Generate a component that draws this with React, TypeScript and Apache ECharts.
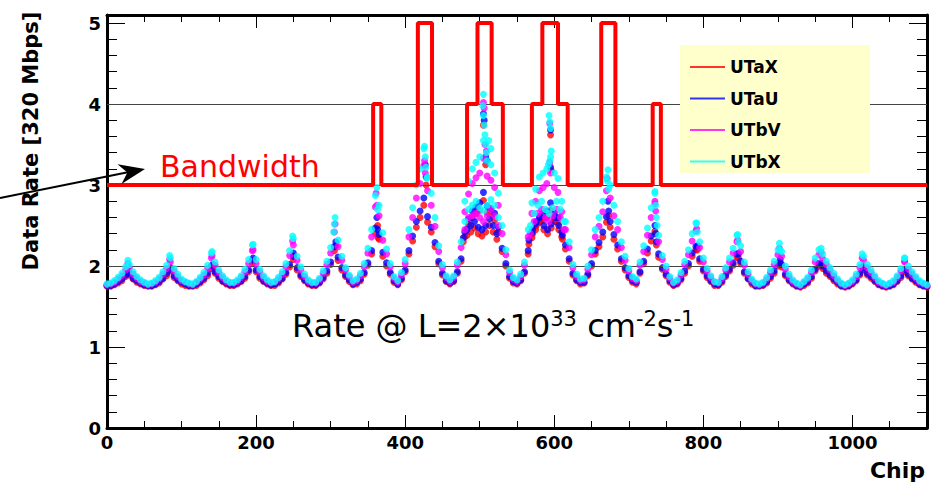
import React, { useEffect, useRef } from "react";
import * as echarts from "echarts";

// ---- data ----
const SAMPLE_STEP = 5; // chip spacing of the sampled base arrays
const X_MAX = 1100;
const Y_MAX = 5.1;
const X_LABEL_STEP = 200;

const bandEdges = [0, 357, 368, 417, 436, 483, 497, 516, 531, 570, 584, 605, 618, 663, 682, 732, 743, 1100];
const bandLevels = [3, 4, 3, 5, 3, 4, 5, 4, 3, 4, 5, 4, 3, 5, 3, 4, 3];
const refLevels = [2, 3, 4];

// UTaX (red)
const utaXBase = [
  1.75,1.75,1.77,1.79,1.82,1.87,1.89,1.84,1.80,1.78,
  1.76,1.75,1.75,1.77,1.79,1.84,1.88,1.94,1.86,1.82,
  1.78,1.76,1.75,1.75,1.76,1.79,1.83,1.88,1.97,1.91,
  1.85,1.81,1.78,1.76,1.76,1.78,1.81,1.85,1.93,2.03,
  1.93,1.85,1.81,1.78,1.76,1.76,1.79,1.84,1.90,1.99,
  2.08,1.95,1.87,1.82,1.78,1.76,1.76,1.79,1.84,1.91,
  2.02,2.19,2.07,1.95,1.87,1.81,1.77,1.78,1.82,1.90,
  2.01,2.15,2.40,2.33,2.12,2.00,1.90,1.80,1.77,1.83,
  1.93,2.15,2.31,2.48,2.60,2.75,2.54,2.42,2.24,2.03,
  1.89,1.81,1.78,1.81,1.91,2.06,2.36,2.51,2.60,2.65,
  2.69,2.81,2.66,2.63,2.57,2.42,2.18,2.00,1.85,1.79,
  1.78,1.82,1.91,2.15,2.35,2.45,2.54,2.57,2.60,2.69,
  2.57,2.53,2.36,2.21,2.06,1.89,1.82,1.78,1.79,1.88,
  2.00,2.15,2.24,2.36,2.54,2.48,2.33,2.21,2.06,1.95,
  1.86,1.80,1.78,1.91,2.03,2.16,2.31,2.43,2.11,1.96,
  1.88,1.80,1.76,1.78,1.83,1.91,2.00,2.12,2.20,2.06,
  1.94,1.86,1.81,1.76,1.76,1.80,1.87,1.94,2.01,2.11,
  2.03,1.91,1.84,1.78,1.75,1.75,1.76,1.79,1.85,1.91,
  2.00,1.99,1.88,1.82,1.78,1.75,1.74,1.76,1.79,1.85,
  1.94,2.00,1.97,1.91,1.87,1.82,1.78,1.75,1.74,1.75,
  1.78,1.82,1.89,1.95,1.89,1.85,1.81,1.77,1.75,1.74,
  1.75,1.77,1.81,1.86,1.94,1.88,1.84,1.80,1.77,1.75,1.74,
];
const utaXExtra = [
  [29,1.92],[85,1.95],[142,1.99],[196,2.06],[250,2.12],[307,2.25],[363,2.5],[364,2.35],
  [428,3.0],[505,3.74],[508,3.25],
  [478,2.3],[483,2.38],[488,2.42],[493,2.47],[498,2.4],[503,2.37],[508,2.42],[513,2.5],[518,2.42],[523,2.33],
  [595,3.62],[596,3.18],
  [566,2.27],[571,2.4],[576,2.5],[581,2.55],[586,2.45],[591,2.4],[596,2.47],[601,2.55],[606,2.45],[611,2.33],
  [673,2.62],[737,2.26],[792,2.2],[847,2.1],[903,2.04],[959,2.0],[1014,1.96],[1071,1.93],
];

// UTaU (blue)
const utaUBase = [
  1.76,1.76,1.78,1.81,1.84,1.89,1.91,1.85,1.82,1.79,
  1.77,1.76,1.76,1.78,1.81,1.85,1.91,1.96,1.88,1.83,
  1.80,1.78,1.76,1.76,1.78,1.81,1.85,1.91,2.00,1.93,
  1.87,1.82,1.79,1.77,1.77,1.79,1.82,1.87,1.95,2.07,
  1.95,1.87,1.82,1.79,1.77,1.78,1.81,1.85,1.92,2.02,
  2.12,1.98,1.89,1.83,1.79,1.77,1.77,1.80,1.86,1.94,
  2.05,2.24,2.11,1.98,1.89,1.83,1.78,1.80,1.84,1.92,
  2.04,2.19,2.47,2.39,2.17,2.04,1.92,1.82,1.78,1.85,
  1.95,2.19,2.37,2.55,2.68,2.84,2.61,2.48,2.29,2.06,
  1.91,1.82,1.79,1.82,1.93,2.09,2.42,2.58,2.68,2.73,
  2.78,2.91,2.74,2.71,2.65,2.48,2.22,2.03,1.87,1.81,
  1.79,1.83,1.93,2.19,2.41,2.52,2.61,2.65,2.68,2.78,
  2.65,2.60,2.42,2.26,2.09,1.91,1.83,1.80,1.80,1.90,
  2.03,2.19,2.29,2.42,2.61,2.55,2.39,2.26,2.09,1.98,
  1.88,1.82,1.80,1.93,2.06,2.21,2.37,2.50,2.15,1.98,
  1.90,1.82,1.77,1.79,1.85,1.94,2.03,2.16,2.24,2.09,
  1.96,1.88,1.82,1.78,1.77,1.82,1.89,1.96,2.04,2.15,
  2.06,1.93,1.85,1.80,1.76,1.76,1.77,1.81,1.87,1.94,
  2.03,2.02,1.90,1.83,1.79,1.76,1.75,1.78,1.81,1.87,
  1.96,2.03,2.00,1.94,1.89,1.84,1.80,1.76,1.75,1.76,
  1.79,1.83,1.91,1.98,1.91,1.87,1.82,1.78,1.76,1.75,
  1.76,1.78,1.82,1.88,1.96,1.90,1.85,1.82,1.78,1.76,1.75,
];
const utaUExtra = [
  [29,1.94],[85,1.98],[142,2.02],[196,2.1],[250,2.16],[307,2.3],[362,2.6],[363,2.45],
  [427,3.25],[428,3.1],[505,3.88],[506,3.8],[508,3.35],[510,3.3],
  [478,2.35],[483,2.45],[488,2.5],[493,2.55],[498,2.48],[503,2.45],[508,2.5],[513,2.58],[518,2.5],[523,2.4],
  [595,3.68],[595,3.22],
  [566,2.32],[571,2.45],[576,2.55],[581,2.6],[586,2.5],[591,2.45],[596,2.52],[601,2.6],[606,2.5],[611,2.38],
  [672,2.8],[673,2.68],[736,2.4],[737,2.3],[792,2.25],[847,2.15],[903,2.08],[959,2.03],[1014,1.99],[1071,1.96],
];

// UTbV (magenta)
const utbVBase = [
  1.77,1.78,1.80,1.84,1.88,1.95,1.98,1.90,1.85,1.81,
  1.79,1.77,1.78,1.80,1.84,1.90,1.97,2.05,1.94,1.87,
  1.82,1.80,1.78,1.77,1.80,1.84,1.89,1.97,2.10,2.01,
  1.92,1.86,1.81,1.79,1.79,1.81,1.86,1.93,2.03,2.19,
  2.03,1.93,1.86,1.81,1.79,1.80,1.84,1.90,1.99,2.13,
  2.26,2.07,1.95,1.87,1.81,1.79,1.79,1.83,1.91,2.02,
  2.16,2.42,2.24,2.07,1.95,1.87,1.80,1.82,1.88,1.99,
  2.16,2.36,2.73,2.62,2.32,2.15,1.99,1.85,1.80,1.89,
  2.03,2.36,2.60,2.84,3.02,3.24,2.93,2.75,2.49,2.18,
  1.98,1.86,1.81,1.86,2.01,2.23,2.67,2.89,3.02,3.09,
  3.15,3.33,3.11,3.06,2.97,2.75,2.40,2.14,1.92,1.84,
  1.81,1.87,2.01,2.36,2.65,2.80,2.93,2.97,3.02,3.15,
  2.97,2.91,2.67,2.45,2.23,1.98,1.87,1.82,1.83,1.96,
  2.14,2.36,2.49,2.67,2.93,2.84,2.62,2.45,2.23,2.07,
  1.94,1.85,1.82,2.01,2.18,2.38,2.60,2.77,2.30,2.08,
  1.96,1.85,1.79,1.81,1.89,2.02,2.14,2.31,2.43,2.23,
  2.05,1.94,1.86,1.80,1.79,1.85,1.95,2.05,2.16,2.30,
  2.18,2.01,1.90,1.82,1.78,1.77,1.79,1.84,1.92,2.02,
  2.14,2.12,1.96,1.87,1.81,1.78,1.76,1.80,1.84,1.92,
  2.05,2.14,2.09,2.02,1.95,1.88,1.82,1.78,1.76,1.78,
  1.81,1.87,1.98,2.07,1.98,1.92,1.86,1.80,1.78,1.76,
  1.78,1.80,1.86,1.94,2.05,1.96,1.90,1.85,1.80,1.78,1.76,
];
const utbVExtra = [
  [28,2.03],[84,2.08],[141,2.13],[196,2.2],[249,2.31],[306,2.52],[361,2.9],[362,2.75],
  [426,3.3],[427,3.15],[505,4.02],[506,3.95],[507,3.5],[509,3.42],
  [480,2.45],[485,2.6],[490,2.62],[495,2.65],[500,2.6],[505,2.55],[510,2.62],[515,2.7],[520,2.62],[525,2.5],
  [594,3.76],[594,3.28],
  [568,2.4],[573,2.55],[578,2.65],[583,2.7],[588,2.6],[593,2.55],[598,2.62],[603,2.7],[608,2.6],[613,2.45],
  [671,3.08],[735,2.8],[736,2.68],[791,2.46],[846,2.32],[902,2.22],[958,2.17],[1013,2.1],[1070,2.06],
];

// UTbX (cyan)
const utbXBase = [
  1.78,1.79,1.82,1.86,1.91,1.99,2.02,1.93,1.87,1.83,
  1.80,1.78,1.79,1.82,1.86,1.93,2.01,2.10,1.97,1.90,
  1.84,1.81,1.79,1.78,1.81,1.86,1.92,2.01,2.16,2.05,
  1.95,1.88,1.83,1.80,1.80,1.83,1.88,1.96,2.08,2.26,
  2.08,1.96,1.88,1.83,1.80,1.81,1.86,1.93,2.03,2.19,
  2.34,2.12,1.99,1.90,1.83,1.80,1.80,1.85,1.94,2.06,
  2.23,2.52,2.32,2.12,1.98,1.89,1.82,1.84,1.91,2.03,
  2.22,2.45,2.87,2.75,2.41,2.21,2.03,1.87,1.82,1.92,
  2.08,2.45,2.72,3.00,3.20,3.45,3.10,2.90,2.60,2.25,
  2.02,1.88,1.83,1.88,2.05,2.30,2.80,3.05,3.20,3.28,
  3.35,3.55,3.30,3.25,3.15,2.90,2.50,2.20,1.95,1.86,
  1.83,1.90,2.05,2.45,2.78,2.95,3.10,3.15,3.20,3.35,
  3.15,3.08,2.80,2.55,2.30,2.02,1.90,1.84,1.85,2.00,
  2.20,2.45,2.60,2.80,3.10,3.00,2.75,2.55,2.30,2.12,
  1.97,1.87,1.84,2.05,2.25,2.47,2.72,2.92,2.38,2.13,
  2.00,1.87,1.80,1.83,1.92,2.06,2.20,2.40,2.53,2.30,
  2.10,1.97,1.88,1.81,1.80,1.87,1.98,2.10,2.22,2.38,
  2.25,2.05,1.93,1.84,1.79,1.78,1.80,1.86,1.95,2.06,
  2.20,2.18,2.00,1.90,1.83,1.79,1.77,1.81,1.86,1.95,
  2.10,2.20,2.15,2.06,1.98,1.91,1.84,1.79,1.77,1.79,
  1.83,1.90,2.02,2.12,2.02,1.95,1.88,1.82,1.79,1.77,
  1.79,1.82,1.88,1.97,2.10,2.00,1.93,1.87,1.82,1.79,1.77,
];
const utbXExtra = [
  [28,2.07],[84,2.13],[141,2.18],[196,2.27],[249,2.37],[306,2.6],[304,2.42],[362,2.97],[363,2.7],
  [426,3.48],[427,3.35],[428,3.22],[429,3.08],
  [505,4.12],[504,3.98],[505,3.86],[506,3.74],[507,3.62],[508,3.5],[509,3.4],[512,3.55],[515,3.45],
  [480,2.55],[485,2.7],[490,2.75],[495,2.8],[500,2.72],[505,2.68],[510,2.75],[515,2.82],[520,2.75],[525,2.6],
  [593,3.86],[594,3.78],[595,3.7],[596,3.42],[594,3.3],[592,3.25],
  [568,2.5],[573,2.65],[578,2.75],[583,2.8],[588,2.7],[593,2.65],[598,2.72],[603,2.8],[608,2.7],[613,2.55],
  [672,3.19],[671,3.05],[673,2.95],[735,2.9],[736,2.75],[737,2.6],[738,2.5],
  [791,2.53],[792,2.42],[846,2.39],[847,2.3],[902,2.28],[903,2.2],[958,2.22],[1013,2.15],[1070,2.1],
];

const seriesDefs = [
  { name: "UTaX", color: "#ff0000", base: utaXBase, extra: utaXExtra },
  { name: "UTaU", color: "#0000ff", base: utaUBase, extra: utaUExtra },
  { name: "UTbV", color: "#ff00ff", base: utbVBase, extra: utbVExtra },
  { name: "UTbX", color: "#00ffff", base: utbXBase, extra: utbXExtra },
];

const FONT = "DejaVu Sans";

function buildBand() {
  const pts: number[][] = [];
  for (let i = 0; i < bandLevels.length; i++) {
    pts.push([bandEdges[i], bandLevels[i]]);
    pts.push([bandEdges[i + 1], bandLevels[i]]);
  }
  return pts;
}

export default function App() {
  const ref = useRef<HTMLDivElement>(null);
  useEffect(() => {
    document.body.style.margin = "0";
    const chart = echarts.init(ref.current as HTMLDivElement, undefined, { renderer: "svg" });
    const yFmt = (v: number) => (Math.abs(v - Math.round(v)) < 1e-6 ? String(Math.round(v)) : "");
    const xFmt = (v: number) => (Math.round(v) % X_LABEL_STEP === 0 ? String(Math.round(v)) : "");
    const axisLabelStyle = { fontFamily: FONT, fontWeight: "bold", fontSize: 18, color: "#000" };
    const frameLine = { show: true, onZero: false, lineStyle: { color: "#000", width: 3 } };
    const noLine = { show: false, onZero: false };
    const mkX = (pos: string, interval: number, len: number, labels: boolean, line: boolean) => ({
      type: "value", min: 0, max: X_MAX, interval, position: pos,
      axisLine: line ? frameLine : noLine,
      axisTick: { show: true, inside: true, length: len, lineStyle: { color: "#000", width: 1 } },
      axisLabel: labels ? { ...axisLabelStyle, margin: 5, formatter: xFmt } : { show: false },
      splitLine: { show: false },
    });
    const mkY = (pos: string, interval: number, len: number, labels: boolean, line: boolean) => ({
      type: "value", min: 0, max: Y_MAX, interval, position: pos,
      axisLine: line ? frameLine : noLine,
      axisTick: { show: true, inside: true, length: len, lineStyle: { color: "#000", width: 1 } },
      axisLabel: labels ? { ...axisLabelStyle, margin: 6, formatter: yFmt } : { show: false },
      splitLine: { show: false },
    });

    const scatterSeries = seriesDefs.map((s, k) => ({
      name: s.name,
      type: "scatter",
      symbol: "circle",
      symbolSize: 7,
      itemStyle: { color: s.color },
      z: 3 + k,
      data: s.base.map((y, i) => [i * SAMPLE_STEP, y]).concat(s.extra),
    }));

    chart.setOption({
      animation: false,
      textStyle: { fontFamily: FONT },
      grid: { left: 107, top: 15, width: 820, height: 413 },
      xAxis: [
        mkX("bottom", 200, 13, true, true),
        mkX("bottom", 50, 7, false, false),
        mkX("top", 200, 13, false, true),
        mkX("top", 50, 7, false, false),
      ],
      yAxis: [
        mkY("left", 1, 18, true, true),
        mkY("left", 0.2, 10, false, false),
        mkY("right", 1, 18, false, true),
        mkY("right", 0.2, 10, false, false),
      ],
      legend: {
        data: seriesDefs.map((s) => ({ name: s.name, icon: "rect" })),
        orient: "vertical",
        left: 685,
        top: 52,
        itemWidth: 35,
        itemHeight: 2,
        itemGap: 11.5,
        selectedMode: false,
        z: 20,
        textStyle: { fontFamily: FONT, fontWeight: "bold", fontSize: 17, color: "#000", lineHeight: 20 },
      },
      series: [
        {
          name: "ref",
          type: "line",
          data: [[0, refLevels[0]]],
          showSymbol: false,
          lineStyle: { width: 0 },
          z: 1,
          silent: true,
          markLine: {
            silent: true,
            symbol: ["none", "none"],
            label: { show: false },
            lineStyle: { color: "#444", width: 1, type: "solid" },
            data: refLevels.map((v) => ({ yAxis: v })),
          },
        },
        ...scatterSeries,
        {
          name: "Bandwidth",
          type: "line",
          data: buildBand(),
          showSymbol: false,
          lineStyle: { color: "#ff0000", width: 4 },
          itemStyle: { color: "#ff0000" },
          z: 10,
          silent: true,
        },
      ],
      graphic: [
        { type: "rect", z: 15, shape: { x: 680, y: 45, width: 190, height: 128 }, style: { fill: "#ffffcc" } },
        {
          type: "text", z: 30, x: 31, y: 141, rotation: Math.PI / 2,
          style: { text: "Data Rate [320 Mbps]", fontFamily: FONT, fontWeight: "bold", fontSize: 21, fill: "#000", align: "center", verticalAlign: "middle" },
        },
        {
          type: "text", z: 30, x: 925, y: 470,
          style: { text: "Chip", fontFamily: FONT, fontWeight: "bold", fontSize: 22, fill: "#000", align: "right", verticalAlign: "middle" },
        },
        {
          type: "text", z: 30, x: 160, y: 166,
          style: { text: "Bandwidth", fontFamily: FONT, fontSize: 30, fill: "#ff0000", align: "left", verticalAlign: "middle" },
        },
        {
          type: "text", z: 30, x: 292, y: 326,
          style: {
            text: "{a|Rate @ L=2×10}{s|33}{a| cm}{s|-2}{a|s}{s|-1}",
            align: "left", verticalAlign: "middle",
            rich: {
              a: { fontFamily: FONT, fontSize: 32, fill: "#000", color: "#000", lineHeight: 36 },
              s: { fontFamily: FONT, fontSize: 21, fill: "#000", color: "#000", verticalAlign: "top", lineHeight: 36 },
            },
          },
        },
        { type: "line", z: 30, shape: { x1: 0, y1: 198, x2: 134, y2: 171 }, style: { stroke: "#000", lineWidth: 2 } },
        {
          type: "polygon", z: 30,
          shape: { points: [[145, 169], [117.5, 164.3], [127.4, 172.5], [121.5, 183.9]] },
          style: { fill: "#000" },
        },
      ],
    });
    return () => chart.dispose();
  }, []);
  return <div ref={ref} style={{ width: 932, height: 483 }} />;
}
